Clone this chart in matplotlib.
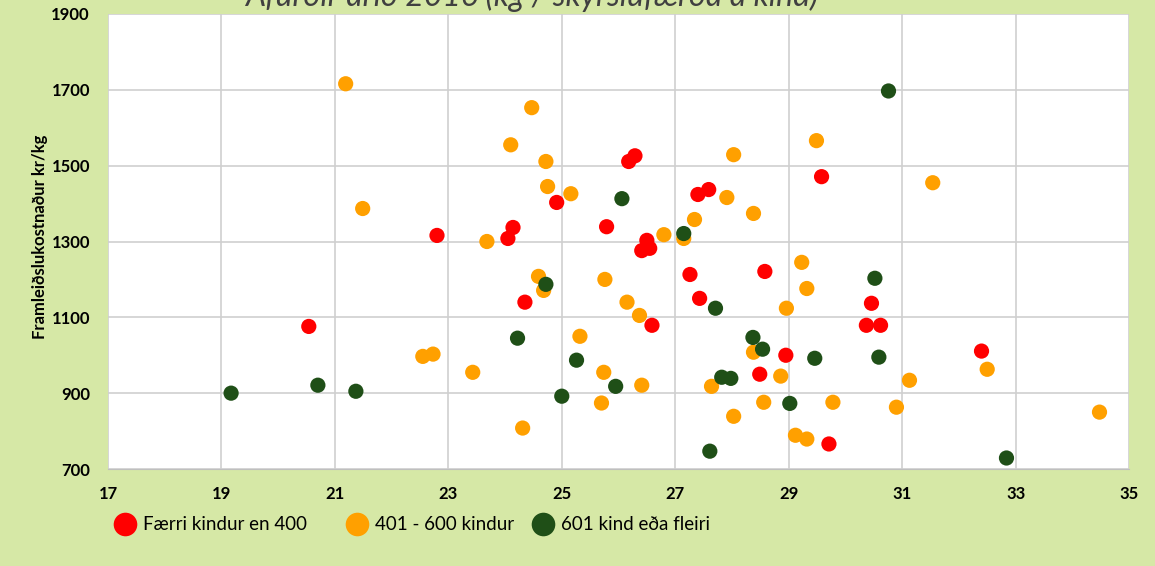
import matplotlib.pyplot as plt
from matplotlib.lines import Line2D

plt.rcParams['font.family'] = ['Lato', 'DejaVu Sans']

# gögn lesin af myndinni: x = kg/á, y = kr/kg
red_x = [20.54, 22.80, 24.05, 24.14, 24.35, 24.91, 25.79, 26.18, 26.29, 26.41, 26.50, 26.55, 26.59,
         27.26, 27.40, 27.43, 27.59, 28.58, 28.95, 28.49, 29.71, 29.58, 30.46, 30.37, 30.62, 32.40]
red_y = [1076, 1316, 1308, 1337, 1140, 1403, 1339, 1511, 1526, 1276, 1303, 1282, 1079,
         1213, 1424, 1150, 1437, 1221, 1000, 950, 766, 1471, 1137, 1079, 1079, 1011]

orange_x = [21.19, 21.49, 22.55, 22.73, 23.43, 23.68, 24.10, 24.47, 24.72, 24.75, 25.16, 24.59,
            24.68, 24.31, 25.32, 25.76, 25.74, 25.70, 26.15, 26.37, 26.41, 26.80, 27.15, 27.34,
            27.91, 28.03, 28.38, 27.64, 28.03, 28.38, 28.56, 28.86, 28.96, 29.23, 29.32, 29.78,
            29.12, 29.32, 29.49, 31.54, 31.13, 30.90, 32.50, 34.48]
orange_y = [1716, 1387, 997, 1003, 955, 1300, 1555, 1653, 1511, 1445, 1426, 1208,
            1171, 808, 1050, 1200, 955, 874, 1140, 1105, 921, 1318, 1308, 1358,
            1416, 1529, 1374, 918, 839, 1008, 876, 945, 1124, 1245, 1176, 876,
            789, 779, 1566, 1455, 934, 863, 963, 850]

green_x = [19.17, 20.70, 21.37, 24.22, 24.72, 25.26, 25.00, 25.95, 26.06, 27.15, 27.71, 27.82,
           27.98, 27.61, 28.37, 28.54, 29.46, 29.02, 30.76, 30.52, 30.59, 32.84]
green_y = [900, 921, 905, 1045, 1187, 987, 892, 918, 1413, 1321, 1124, 942,
           939, 747, 1047, 1016, 992, 873, 1697, 1203, 995, 729]

labels = ['Færri kindur en 400', '401 - 600 kindur', '601 kind eða fleiri']
colors = ['#ff0000', '#ffa000', '#1f4f17']
title = 'Afurðir árið 2016 (kg / skýrslufærða á kind)'

fig = plt.figure(figsize=(11.55, 5.66), dpi=100)
fig.patch.set_facecolor('#d6e8a6')
ax = fig.add_axes([108/1155, 1 - 469/566, 1021/1155, 455/566])
ax.set_facecolor('white')

for xs, ys, c, lab in zip([red_x, orange_x, green_x], [red_y, orange_y, green_y], colors, labels):
    ax.scatter(xs, ys, s=120, color=c, edgecolors='none', label=lab, zorder=3)

ax.set_xlim(17, 35)
ax.set_ylim(700, 1900)
ax.set_xticks(range(17, 36, 2))
ax.set_yticks(range(700, 1901, 200))
ax.grid(True, color='#cfcfcf', linewidth=1.2, zorder=0)
ax.tick_params(length=0, labelsize=12)
ax.tick_params(axis='y', pad=13)
ax.tick_params(axis='x', pad=12)
for lbl in ax.get_xticklabels() + ax.get_yticklabels():
    lbl.set_fontweight('bold')
for s in ax.spines.values():
    s.set_visible(False)
ax.spines['bottom'].set_visible(True)
ax.spines['bottom'].set_color('#bfbfbf')

fig.text(40/1155, 1 - 237/566, 'Framleiðslukostnaður kr/kg', rotation=90,
         ha='center', va='center', fontsize=12, fontweight='bold')

# titillinn er skorinn ofan í myndinni, eins og í frumritinu
fig.text(532/1155, 1 - 6/566, title, ha='center', va='baseline', fontsize=23,
         fontstyle='italic', color='#404040')

# ein skýring fyrir hvern flokk, eins og í Excel
leg_x = [115.6, 347.6, 533.6]
for c, lab, lx in zip(colors, labels, leg_x):
    h = Line2D([], [], marker='o', linestyle='none', markersize=17, color=c, markeredgewidth=0)
    fig.legend(handles=[h], labels=[lab], loc='center left', bbox_to_anchor=(lx/1155, 1 - 525/566),
               frameon=False, fontsize=13.5, handlelength=1.0, handletextpad=0.46,
               borderpad=0, borderaxespad=0)

fig.savefig('out.png', dpi=100, facecolor=fig.get_facecolor())
